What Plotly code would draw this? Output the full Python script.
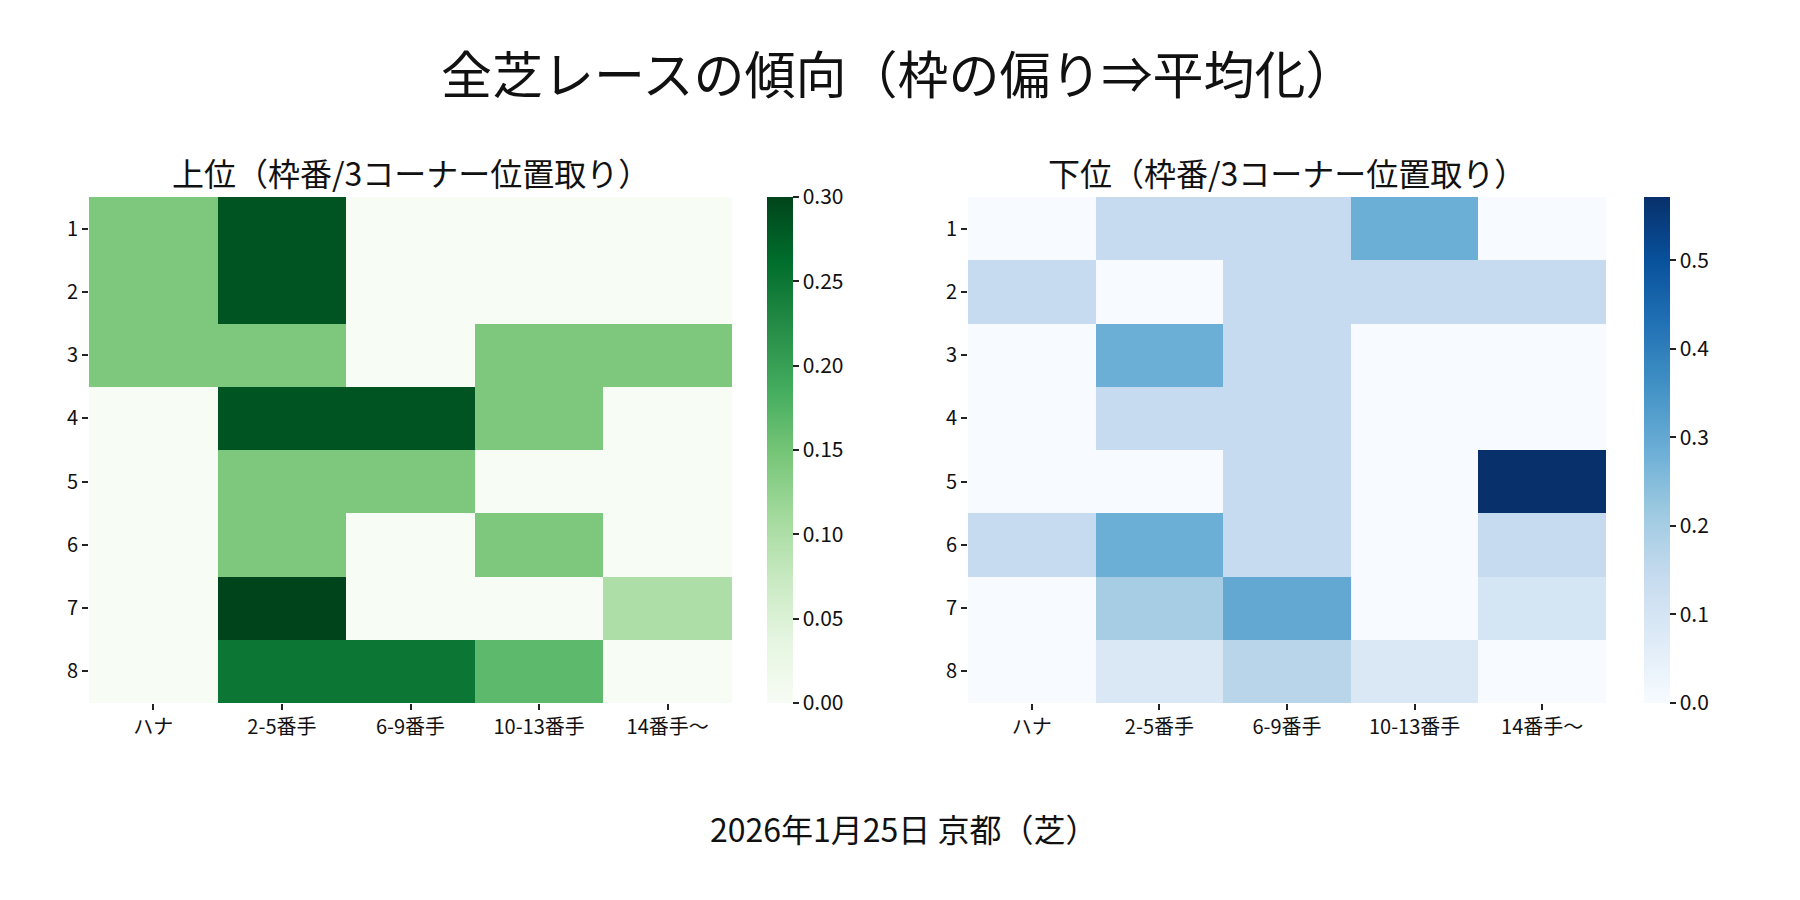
import plotly.graph_objects as go
import plotly.express as px

# 3コーナー位置取り / 枠番
positions = ["ハナ", "2-5番手", "6-9番手", "10-13番手", "14番手～"]
waku = ["1", "2", "3", "4", "5", "6", "7", "8"]

# 上位
top_vals = [
    [1/7, 2/7, 0, 0, 0],
    [1/7, 2/7, 0, 0, 0],
    [1/7, 1/7, 0, 1/7, 1/7],
    [0, 2/7, 2/7, 1/7, 0],
    [0, 1/7, 1/7, 0, 0],
    [0, 1/7, 0, 1/7, 0],
    [0, 0.30, 0, 0, 0.10],
    [0, 0.25, 0.25, 1/6, 0],
]

# 下位
bottom_vals = [
    [0, 1/7, 1/7, 2/7, 0],
    [1/7, 0, 1/7, 1/7, 1/7],
    [0, 2/7, 1/7, 0, 0],
    [0, 1/7, 1/7, 0, 0],
    [0, 0, 1/7, 0, 4/7],
    [1/7, 2/7, 1/7, 0, 1/7],
    [0, 0.20, 0.30, 0, 0.10],
    [0, 1/12, 1/6, 1/12, 0],
]

main_title = "全芝レースの傾向（枠の偏り⇒平均化）"
top_title = "上位（枠番/3コーナー位置取り）"
bottom_title = "下位（枠番/3コーナー位置取り）"
footer = "2026年1月25日 京都（芝）"

FONT = "Noto Sans CJK JP"
W, H = 1800, 900

# plot area in pixels
TOP, BOTTOM = 189, 695
L1, R1 = 81, 724
L2, R2 = 960, 1598


def cscale(colors):
    n = len(colors) - 1
    return [[i / n, c] for i, c in enumerate(colors)]


def cbar(x, vals, texts):
    return dict(x=x / W, xanchor="left", y=(H - BOTTOM) / H, yanchor="bottom",
                len=(BOTTOM - TOP) / H, lenmode="fraction", thickness=26, thicknessmode="pixels",
                xpad=0, ypad=0, outlinewidth=0,
                tickmode="array", tickvals=vals, ticktext=texts,
                ticks="outside", ticklen=6, tickwidth=1.5, tickcolor="#222",
                tickfont=dict(family=FONT, size=21, color="#111"))


zmax_top = max(max(r) for r in top_vals)
zmax_bot = max(max(r) for r in bottom_vals)

fig = go.Figure()

fig.add_trace(go.Heatmap(
    z=top_vals, x=positions, y=waku, xaxis="x", yaxis="y",
    colorscale=cscale(px.colors.sequential.Greens), zmin=0, zmax=zmax_top,
    colorbar=cbar(759, [0, 0.05, 0.10, 0.15, 0.20, 0.25, 0.30],
                  ["0.00", "0.05", "0.10", "0.15", "0.20", "0.25", "0.30"]),
))

fig.add_trace(go.Heatmap(
    z=bottom_vals, x=positions, y=waku, xaxis="x2", yaxis="y2",
    colorscale=cscale(px.colors.sequential.Blues), zmin=0, zmax=zmax_bot,
    colorbar=cbar(1636, [0, 0.1, 0.2, 0.3, 0.4, 0.5],
                  ["0.0", "0.1", "0.2", "0.3", "0.4", "0.5"]),
))

axis_common = dict(showgrid=False, zeroline=False, showline=False,
                   ticks="outside", ticklen=6, tickwidth=1.5, tickcolor="#222",
                   tickfont=dict(family=FONT, size=20, color="#111"))

y_dom = [(H - BOTTOM) / H, (H - TOP) / H]
fig.update_layout(
    width=W, height=H,
    margin=dict(l=0, r=0, t=0, b=0),
    paper_bgcolor="white", plot_bgcolor="white",
    font=dict(family=FONT, color="#111"),
    xaxis=dict(domain=[L1 / W, R1 / W], anchor="y", **axis_common),
    yaxis=dict(domain=y_dom, anchor="x", autorange="reversed", **axis_common),
    xaxis2=dict(domain=[L2 / W, R2 / W], anchor="y2", **axis_common),
    yaxis2=dict(domain=y_dom, anchor="x2", autorange="reversed", **axis_common),
    annotations=[
        dict(text=main_title, x=890 / W, y=1 - 64 / H, xref="paper", yref="paper",
             showarrow=False, font=dict(family=FONT, size=51, color="#111"),
             xanchor="center", yanchor="middle"),
        dict(text=top_title, x=(L1 + R1) / 2 / W, y=1 - 164 / H, xref="paper", yref="paper",
             showarrow=False, font=dict(family=FONT, size=32, color="#111"),
             xanchor="center", yanchor="middle"),
        dict(text=bottom_title, x=(L2 + R2) / 2 / W, y=1 - 164 / H, xref="paper", yref="paper",
             showarrow=False, font=dict(family=FONT, size=32, color="#111"),
             xanchor="center", yanchor="middle"),
        dict(text=footer, x=896 / W, y=1 - 820 / H, xref="paper", yref="paper",
             showarrow=False, font=dict(family=FONT, size=32, color="#111"),
             xanchor="center", yanchor="middle"),
    ],
)

fig.write_html("out.html")
